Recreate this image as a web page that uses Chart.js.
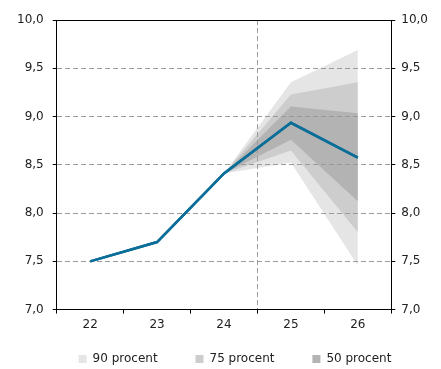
<!DOCTYPE html>
<html>
<head>
<meta charset="utf-8">
<script src="https://cdn.jsdelivr.net/npm/chart.js@4"></script>
<style>
  body { margin: 0; background: #fff; }
</style>
</head>
<body>
<canvas id="fanChart" width="441" height="369"></canvas>
<script>
/*** Data ***/
const years = ['22', '23', '24', '25', '26'];
const forecast = [7.5, 7.7, 8.41, 8.935, 8.575];
const upper90 = [null, null, 8.41, 9.355, 9.69];
const lower90 = [null, null, 8.41, 8.523, 7.456];
const upper75 = [null, null, 8.41, 9.228, 9.355];
const lower75 = [null, null, 8.41, 8.648, 7.80];
const upper50 = [null, null, 8.41, 9.104, 9.034];
const lower50 = [null, null, 8.41, 8.759, 8.122];
const yTicks = [7.0, 7.5, 8.0, 8.5, 9.0, 9.5, 10.0];

/*** Style ***/
const gridGray = '#9a9a9a';

Chart.defaults.font.family = 'DejaVu Sans';
Chart.defaults.font.size = 12;
Chart.defaults.color = '#222';

function band(label, data, color, fillTo) {
    return {
        label: label,
        data: data,
        borderWidth: 0,
        borderColor: color,
        backgroundColor: color,
        pointRadius: 0,
        fill: fillTo
    };
}

// put the forecast line back on top of the grid lines
const lineOnTop = {
    id: 'lineOnTop',
    afterDraw(chart) {
        chart.getDatasetMeta(0).controller.draw();
    }
};

// nudge the legend row a bit, like the original
const legendNudge = {
    id: 'legendNudge',
    afterLayout(chart) {
        chart.legend.left += 14;
        chart.legend.right += 14;
        chart.legend.top += 2;
        chart.legend.bottom += 2;
    }
};

function yAxis(position) {
    return {
        position: position,
        min: 7,
        max: 10,
        afterBuildTicks: function (scale) {
            scale.ticks = yTicks.map(v => ({value: v}));
        },
        ticks: {
            padding: position === 'left' ? 9 : 6,
            callback: v => v.toFixed(1).replace('.', ',')
        },
        grid: {
            z: 1,
            drawOnChartArea: position === 'left',
            tickLength: 4,
            tickColor: '#000',
            color: function (ctx) {
                if (!ctx.tick) return 'transparent';
                if (ctx.tick.value === 10) return '#000';
                if (ctx.tick.value === 7) return 'transparent';
                return gridGray;
            }
        },
        border: {
            z: 2,
            color: '#000',
            width: 1,
            dash: ctx => (ctx.tick && ctx.tick.value === 10) ? [] : [5, 3]
        }
    };
}

new Chart(document.getElementById('fanChart'), {
    type: 'line',
    data: {
        labels: years,
        datasets: [
            {
                label: 'Prognos',
                data: forecast,
                borderColor: '#0b6e98',
                backgroundColor: '#0b6e98',
                borderWidth: 2.5,
                pointRadius: 0,
                fill: false
            },
            band('50 procent', upper50, '#b3b3b3', '+1'),
            band('', lower50, '#b3b3b3', false),
            band('75 procent', upper75, '#cdcdcd', '+1'),
            band('', lower75, '#cdcdcd', false),
            band('90 procent', upper90, '#e5e5e5', '+1'),
            band('', lower90, '#e5e5e5', false)
        ]
    },
    options: {
        responsive: false,
        animation: false,
        layout: {
            padding: {left: 8, right: 7, top: 20, bottom: -4}
        },
        plugins: {
            tooltip: {enabled: false},
            legend: {
                position: 'bottom',
                reverse: true,
                labels: {
                    boxWidth: 8,
                    boxHeight: 8,
                    padding: 15,
                    color: '#222',
                    filter: item => item.text.indexOf('procent') >= 0,
                    generateLabels: function (chart) {
                        const items = Chart.defaults.plugins.legend.labels.generateLabels(chart);
                        items.forEach(item => {
                            item.lineWidth = 0;
                            if (item.text !== '50 procent' && item.text.indexOf('procent') >= 0) {
                                item.text = item.text + '      ';
                            }
                        });
                        return items;
                    }
                }
            }
        },
        scales: {
            x: {
                offset: true,
                grid: {
                    offset: true,
                    z: 1,
                    tickLength: 4,
                    tickColor: '#000',
                    color: ctx => ctx.index === 3 ? gridGray : 'transparent'
                },
                border: {
                    z: 2,
                    color: '#000',
                    width: 1,
                    dash: [5, 3]
                },
                ticks: {
                    padding: 4
                }
            },
            y: yAxis('left'),
            y2: yAxis('right')
        }
    },
    plugins: [lineOnTop, legendNudge]
});
</script>
</body>
</html>
